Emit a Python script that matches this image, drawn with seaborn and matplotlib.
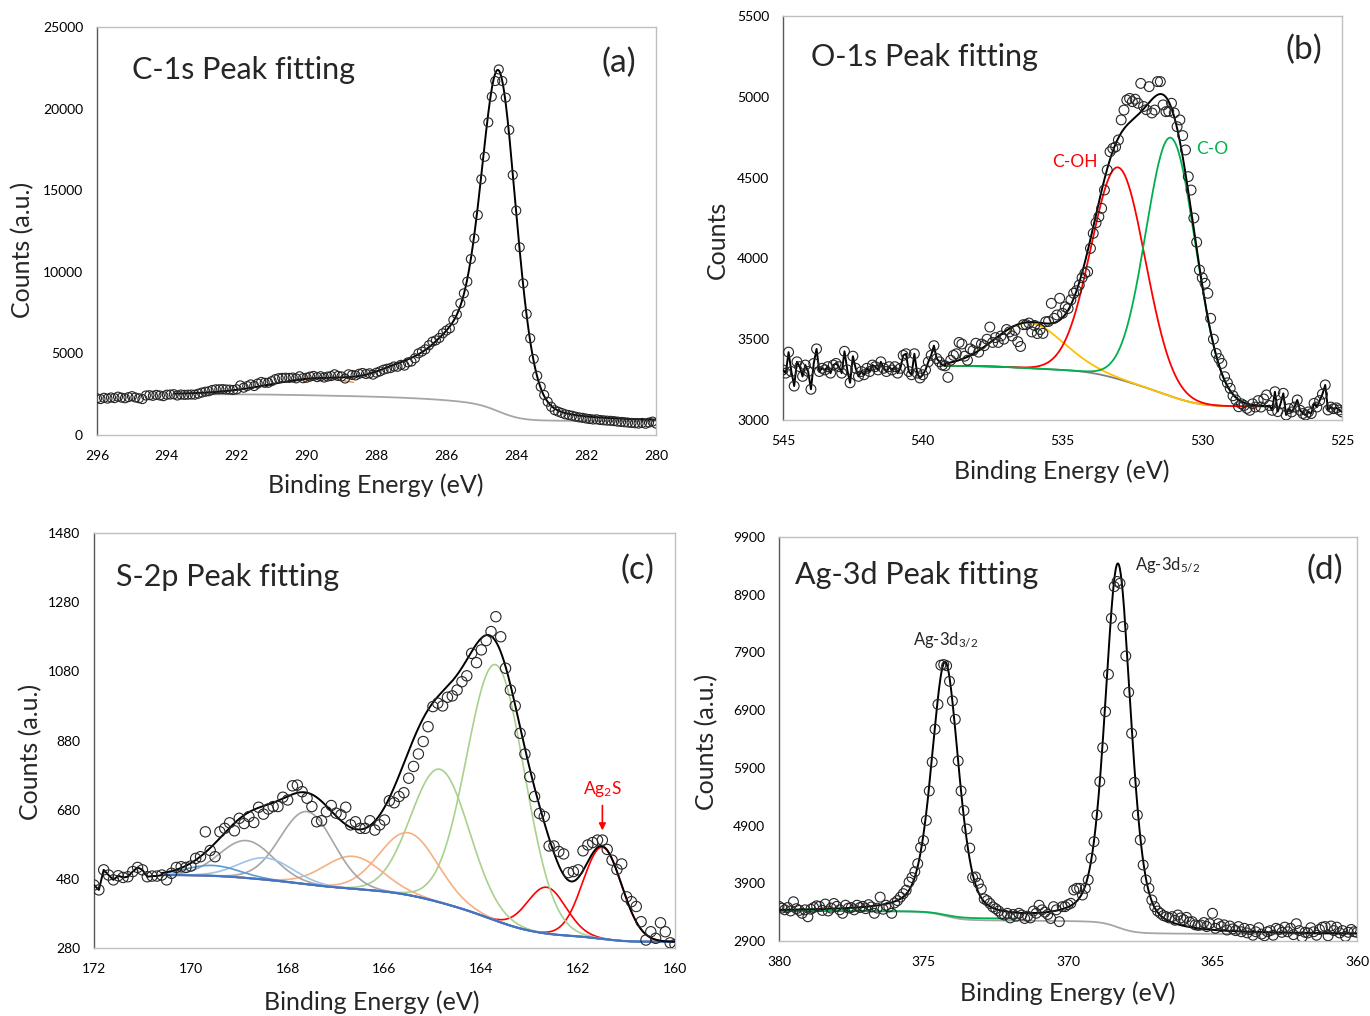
import numpy as np
import matplotlib
matplotlib.use("Agg")
import matplotlib.pyplot as plt
import seaborn as sns

STEP = 0.1

# ---------------- (a) C-1s ----------------
c1s_be = (296.0, 280.0)
c1s_counts = [
    2250, 2200, 2280, 2230, 2300, 2260, 2350, 2290, 2250, 2320,
    2380, 2300, 2250, 2200, 2420, 2440, 2400, 2460, 2420, 2380,
    2470, 2480, 2500, 2420, 2480, 2460, 2470, 2480, 2470, 2530,
    2600, 2650, 2680, 2760, 2800, 2800, 2810, 2790, 2780, 2760,
    2800, 3040, 2900, 3000, 3100, 3000, 3150, 3250, 3200, 3200,
    3300, 3420, 3480, 3500, 3510, 3500, 3520, 3470, 3600, 3480,
    3510, 3580, 3620, 3550, 3600, 3520, 3580, 3610, 3720, 3620,
    3590, 3460, 3720, 3680, 3650, 3750, 3800, 3740, 3780, 3700,
    3820, 3900, 4000, 4060, 4100, 4200, 4180, 4300, 4250, 4450,
    4500, 4700, 5000, 5110, 5250, 5500, 5720, 5800, 5950, 6230,
    6400, 6540, 7050, 7390, 8070, 8680, 9400, 10780, 12050, 13480,
    15670, 17050, 19160, 20730, 21690, 22400, 21690, 20670, 18690, 15930,
    13750, 11500, 9290, 7410, 5920, 4660, 3630, 2960, 2450, 2040,
    1730, 1520, 1430, 1350, 1270, 1225, 1180, 1120, 1080, 1050,
    1010, 980, 950, 960, 920, 900, 880, 870, 850, 820,
    800, 780, 760, 740, 720, 700, 740, 690, 760, 820,
    700]
c1s_centers = [284.5, 285.7, 287.0, 289.5]
c1s_heights = [20400, 2800, 1600, 1000]
c1s_fwhm = [1.2, 1.5, 2.0, 3.5]
c1s_eta = [0.25, 0.0, 0.0, 0.0]
c1s_bg_low_high = (850, 2500)
c1s_fit_range = (280.0, 293.8)
c1s_bg_range = (280.0, 293.0)

# ---------------- (b) O-1s ----------------
o1s_be = (545.0, 525.0)
o1s_counts = [
    3310, 3290, 3420, 3300, 3210, 3360, 3330, 3270, 3340, 3300,
    3190, 3350, 3440, 3300, 3320, 3310, 3330, 3290, 3340, 3350,
    3330, 3290, 3425, 3310, 3230, 3395, 3320, 3270, 3300, 3280,
    3320, 3300, 3340, 3330, 3310, 3360, 3320, 3300, 3330, 3310,
    3330, 3290, 3320, 3400, 3410, 3300, 3280, 3410, 3290, 3260,
    3280, 3310, 3360, 3400, 3460, 3380, 3360, 3340, 3335, 3264,
    3370, 3400, 3410, 3480, 3470, 3395, 3370, 3440, 3430, 3475,
    3420, 3470, 3460, 3500, 3575, 3480, 3510, 3480, 3520, 3500,
    3560, 3545, 3520, 3555, 3485, 3455, 3590, 3590, 3600, 3545,
    3585, 3535, 3560, 3536, 3608, 3610, 3722, 3629, 3650, 3753,
    3660, 3700, 3690, 3743, 3784, 3800, 3835, 3880, 3908, 3918,
    4062, 4155, 4220, 4258, 4310, 4423, 4547, 4660, 4681, 4690,
    4733, 4857, 4918, 4980, 4990, 4970, 4985, 4960, 5083, 4940,
    4920, 5063, 4900, 4918, 5094, 5094, 4950, 4908, 4910, 4960,
    4900, 4815, 4857, 4760, 4671, 4506, 4423, 4250, 4100, 3928,
    3880, 3846, 3784, 3629, 3500, 3412, 3380, 3350, 3268, 3230,
    3196, 3150, 3124, 3082, 3100, 3090, 3072, 3060, 3100, 3080,
    3120, 3080, 3130, 3155, 3090, 3060, 3175, 3052, 3100, 3165,
    3031, 3070, 3050, 3080, 3124, 3060, 3040, 3031, 3050, 3040,
    3103, 3080, 3120, 3160, 3217, 3062, 3080, 3070, 3075, 3062,
    3050]
o1s_names = ["shoulder", "C-OH", "C-O"]
o1s_centers = [536.2, 533.0, 531.12]
o1s_heights = [280, 1310, 1600]
o1s_fwhm = [2.9, 2.26, 2.1]
o1s_colors = ["#FFC000", "#FF0000", "#00B050"]
o1s_bg_low_high = (3085, 3335)
o1s_fit_range = (527.6, 539.2)

# ---------------- (c) S-2p ----------------
s2p_be = (172.0, 160.0)
s2p_counts = [
    462, 448, 506, 491, 477, 489, 484, 486, 501, 513,
    506, 486, 488, 488, 491, 477, 496, 513, 515, 513,
    517, 539, 544, 616, 562, 544, 616, 626, 642, 619,
    655, 640, 660, 643, 687, 667, 682, 689, 689, 716,
    708, 749, 751, 732, 713, 689, 645, 648, 674, 692,
    670, 665, 687, 636, 645, 626, 626, 648, 621, 636,
    650, 706, 700, 718, 729, 771, 805, 841, 877, 920,
    978, 988, 980, 1005, 1009, 1026, 1050, 1067, 1132, 1105,
    1142, 1169, 1195, 1238, 1180, 1089, 1026, 980, 901, 841,
    775, 718, 669, 660, 575, 575, 559, 552, 498, 501,
    506, 561, 578, 585, 592, 592, 565, 534, 507, 523,
    428, 414, 400, 356, 303, 327, 308, 353, 327, 295,
    290]
s2p_centers = [161.5, 162.65, 163.7, 164.85, 165.5, 166.65, 167.6, 168.85, 168.45, 169.55]
s2p_heights = [265, 134, 740, 385, 180, 94, 210, 108, 63, 30]
s2p_fwhm = [0.94, 0.94, 1.41, 1.41, 1.41, 1.41, 1.3, 1.3, 1.3, 1.3]
s2p_colors = ["#FF0000", "#FF0000", "#A9D18E", "#A9D18E", "#F4B183", "#F4B183",
              "#A5A5A5", "#A5A5A5", "#9DC3E6", "#5B9BD5"]
s2p_bg_low_high = (298, 491)
s2p_fit_range = (160.0, 170.6)

# ---------------- (d) Ag-3d ----------------
ag3d_be = (380.0, 360.0)
ag3d_counts = [
    3500, 3470, 3440, 3480, 3420, 3580, 3460, 3430, 3380, 3440,
    3320, 3450, 3480, 3510, 3500, 3430, 3540, 3420, 3470, 3550,
    3500, 3440, 3380, 3520, 3470, 3480, 3440, 3520, 3480, 3500,
    3460, 3530, 3490, 3380, 3470, 3660, 3450, 3520, 3490, 3380,
    3560, 3600, 3660, 3720, 3780, 3920, 4000, 4100, 4240, 4520,
    4640, 4990, 5500, 6000, 6570, 7000, 7680, 7690, 7670, 7400,
    7060, 6740, 6020, 5500, 5160, 4840, 4510, 4000, 4010, 3900,
    3800, 3630, 3600, 3550, 3490, 3460, 3420, 3370, 3350, 3380,
    3300, 3360, 3330, 3380, 3350, 3290, 3330, 3300, 3420, 3380,
    3520, 3440, 3400, 3360, 3290, 3495, 3440, 3235, 3495, 3495,
    3530, 3553, 3784, 3813, 3813, 3697, 3813, 3960, 4332, 4621,
    5083, 5661, 6250, 6874, 7521, 8491, 9040, 9130, 9098, 8347,
    7838, 7209, 6498, 5649, 5083, 4650, 4217, 3957, 3813, 3610,
    3495, 3420, 3379, 3340, 3322, 3300, 3322, 3260, 3351, 3300,
    3270, 3310, 3230, 3235, 3180, 3170, 3177, 3220, 3150, 3200,
    3380, 3120, 3200, 3150, 3180, 3090, 3160, 3110, 3080, 3150,
    3060, 3120, 3040, 3100, 3000, 3060, 3130, 3020, 2990, 3060,
    3080, 3000, 3120, 3100, 3050, 3140, 3060, 3120, 3010, 3200,
    3080, 2970, 3050, 3040, 3130, 3060, 3000, 3100, 3140, 3150,
    2990, 3160, 3080, 3140, 3040, 3080, 2980, 3050, 3100, 3060,
    3050]
ag3d_centers = [374.25, 368.27]
ag3d_heights = [4380, 6290]
ag3d_fwhm = [1.1, 1.05]
ag3d_eta = [0.4, 0.4]
ag3d_bg_low_high = (3020, 3420)
ag3d_green_low_high = (3290, 3420)
ag3d_green_range = (371.8, 380.0)


# ---------------- helpers ----------------
def be_grid(be_range, n):
    return np.round(be_range[0] - STEP * np.arange(n), 2)


def pseudo_voigt(x, c, h, fwhm, eta=0.0):
    u = (x - c) / fwhm
    g = np.exp(-4 * np.log(2) * u ** 2)
    lo = 1.0 / (1 + 4 * u ** 2)
    return h * ((1 - eta) * g + eta * lo)


def shirley(x_asc, signal, low, high):
    cum = np.concatenate([[0.0], np.cumsum(0.5 * (signal[1:] + signal[:-1]) * np.diff(x_asc))])
    return low + (high - low) * cum / cum[-1]


def line(ax, x, y, color, lw=1.3, z=2):
    sns.lineplot(x=x, y=y, ax=ax, color=color, linewidth=lw, estimator=None,
                 sort=False, zorder=z, legend=False)


def points(ax, x, y, s=46):
    sns.scatterplot(x=x, y=y, ax=ax, s=s, marker="o", facecolor="none",
                    edgecolor="#262626", linewidth=0.8, zorder=6, legend=False)


def style_axes(ax, xlim, xticks, ylim, yticks, xlabel, ylabel, ylabel_xy, xlabel_xy):
    ax.set_xlim(*xlim)
    ax.set_ylim(*ylim)
    ax.set_xticks(xticks)
    ax.set_yticks(yticks)
    ax.set_xticklabels([f"{int(v)}" for v in xticks])
    ax.set_yticklabels([f"{int(v)}" for v in yticks])
    ax.tick_params(axis="both", length=0, labelsize=10, colors="black")
    ax.tick_params(axis="x", pad=11)
    ax.tick_params(axis="y", pad=10)
    for side, sp in ax.spines.items():
        sp.set_visible(True)
        sp.set_color("#595959" if side == "left" else "#BFBFBF")
        sp.set_linewidth(1.0)
    ax.set_xlabel(xlabel, fontsize=18)
    ax.set_ylabel(ylabel, fontsize=18)
    ax.yaxis.set_label_coords(*ylabel_xy)
    ax.xaxis.set_label_coords(*xlabel_xy)
    ax.grid(False)


sns.set_theme(style="white")
plt.rcParams["font.family"] = ["Lato", "DejaVu Sans"]
plt.rcParams["mathtext.default"] = "regular"

fig = plt.figure(figsize=(13.7, 10.16), dpi=100)
fig.patch.set_facecolor("white")

W, H = 1370.0, 1016.0
TITLE_FS = 22
TAG_FS = 24


def add_axes(l, r, t, b):
    return fig.add_axes([l / W, 1 - b / H, (r - l) / W, (b - t) / H])


# ---------- (a) ----------
ax = add_axes(97, 656, 27, 435)
xa = be_grid(c1s_be, len(c1s_counts))
ya = np.array(c1s_counts, float)
xf = np.linspace(c1s_fit_range[0], c1s_fit_range[1], 900)
comps = [pseudo_voigt(xf, c, h, w, e) for c, h, w, e in zip(c1s_centers, c1s_heights, c1s_fwhm, c1s_eta)]
total = np.sum(comps, axis=0)
bg = shirley(xf, total, *c1s_bg_low_high)
mbg = xf <= c1s_bg_range[1]
line(ax, xf[mbg], bg[mbg], "#A6A6A6", lw=1.3, z=2)
morange = comps[3] > 0.85 * c1s_heights[3]
line(ax, xf[morange], (bg + comps[3])[morange], "#ED7D31", lw=0.9, z=3)
line(ax, xf, bg + total, "black", lw=1.4, z=4)
points(ax, xa, ya, s=42)
style_axes(ax, (296, 280), np.arange(296, 279, -2), (0, 25000), np.arange(0, 25001, 5000),
           "Binding Energy (eV)", "Counts (a.u.)", (-0.113, 0.453), (0.499, -0.093))
ax.text(0.063, 0.895, "C-1s Peak fitting", transform=ax.transAxes, fontsize=TITLE_FS, va="center", ha="left")
ax.text(0.934, 0.912, "(a)", transform=ax.transAxes, fontsize=TAG_FS, va="center", ha="center")

# ---------- (b) ----------
ax = add_axes(783, 1342, 16, 420)
xb = be_grid(o1s_be, len(o1s_counts))
yb = np.array(o1s_counts, float)
xf = np.linspace(o1s_fit_range[0], o1s_fit_range[1], 900)
comps = [pseudo_voigt(xf, c, h, w) for c, h, w in zip(o1s_centers, o1s_heights, o1s_fwhm)]
total = np.sum(comps, axis=0)
bg = shirley(xf, total, *o1s_bg_low_high)
line(ax, xf, bg, "#7F7F7F", lw=1.3, z=2)
for comp, col in zip(comps, o1s_colors):
    line(ax, xf, bg + comp, col, lw=1.3, z=3)
left = xb >= o1s_fit_range[1] - 1e-9
right = xb <= o1s_fit_range[0] + 1e-9
env_x = np.concatenate([xb[left], xf[::-1], xb[right]])
env_y = np.concatenate([yb[left], (bg + total)[::-1], yb[right]])
line(ax, env_x, env_y, "black", lw=1.4, z=4)
points(ax, xb, yb, s=50)
style_axes(ax, (545, 525), np.arange(545, 524, -5), (3000, 5500), np.arange(3000, 5501, 500),
           "Binding Energy (eV)", "Counts", (-0.097, 0.446), (0.499, -0.0965))
ax.text(0.050, 0.899, "O-1s Peak fitting", transform=ax.transAxes, fontsize=TITLE_FS, va="center", ha="left")
ax.text(0.932, 0.916, "(b)", transform=ax.transAxes, fontsize=TAG_FS, va="center", ha="center")
ax.text(534.55, 4597, o1s_names[1], color=o1s_colors[1], fontsize=12.5, ha="center", va="center")
ax.text(529.65, 4677, o1s_names[2], color=o1s_colors[2], fontsize=12.5, ha="center", va="center")

# ---------- (c) ----------
ax = add_axes(94, 675, 533, 948)
xc = be_grid(s2p_be, len(s2p_counts))
yc = np.array(s2p_counts, float)
xf = np.linspace(s2p_fit_range[0], s2p_fit_range[1], 900)
comps = [pseudo_voigt(xf, c, h, w) for c, h, w in zip(s2p_centers, s2p_heights, s2p_fwhm)]
total = np.sum(comps, axis=0)
bg = shirley(xf, total, *s2p_bg_low_high)
for comp, col in zip(comps, s2p_colors):
    line(ax, xf, bg + comp, col, lw=1.2, z=2)
line(ax, xf, bg, "#4472C4", lw=1.6, z=3)
left = xc >= s2p_fit_range[1] - 1e-9
env_x = np.concatenate([xc[left], xf[::-1]])
env_y = np.concatenate([yc[left], (bg + total)[::-1]])
line(ax, env_x, env_y, "black", lw=1.4, z=4)
points(ax, xc, yc, s=55)
style_axes(ax, (172, 160), np.arange(172, 159, -2), (280, 1480), np.arange(280, 1481, 200),
           "Binding Energy (eV)", "Counts (a.u.)", (-0.0895, 0.472), (0.478, -0.101))
ax.text(0.038, 0.894, "S-2p Peak fitting", transform=ax.transAxes, fontsize=TITLE_FS, va="center", ha="left")
ax.text(0.935, 0.911, "(c)", transform=ax.transAxes, fontsize=TAG_FS, va="center", ha="center")
ax.annotate("", xy=(s2p_centers[0], 612), xytext=(s2p_centers[0], 700),
            arrowprops=dict(arrowstyle="-|>", color="#FF0000", lw=1.2, mutation_scale=10))
ax.text(s2p_centers[0], 710, "Ag$_2$S", color="#FF0000", fontsize=12.5, ha="center", va="bottom")

# ---------- (d) ----------
ax = add_axes(779, 1357, 537, 941)
xd = be_grid(ag3d_be, len(ag3d_counts))
yd = np.array(ag3d_counts, float)
xf = np.linspace(ag3d_be[1], ag3d_be[0], 1200)
comps = [pseudo_voigt(xf, c, h, w, e) for c, h, w, e in zip(ag3d_centers, ag3d_heights, ag3d_fwhm, ag3d_eta)]
total = np.sum(comps, axis=0)
bg = shirley(xf, total, *ag3d_bg_low_high)
xg = np.linspace(ag3d_green_range[0], ag3d_green_range[1], 600)
g_sig = pseudo_voigt(xg, ag3d_centers[0], ag3d_heights[0], ag3d_fwhm[0], ag3d_eta[0])
g_bg = shirley(xg, g_sig, *ag3d_green_low_high)
line(ax, xf, bg, "#A6A6A6", lw=1.3, z=2)
line(ax, xg, g_bg, "#00B050", lw=1.3, z=3)
line(ax, xf, bg + total, "black", lw=1.4, z=4)
points(ax, xd, yd, s=50)
style_axes(ax, (380, 360), np.arange(380, 359, -5), (2900, 9900), np.arange(2900, 9901, 1000),
           "Binding Energy (eV)", "Counts (a.u.)", (-0.1055, 0.493), (0.5, -0.099))
ax.text(0.028, 0.906, "Ag-3d Peak fitting", transform=ax.transAxes, fontsize=TITLE_FS, va="center", ha="left")
ax.text(0.945, 0.918, "(d)", transform=ax.transAxes, fontsize=TAG_FS, va="center", ha="center")
ax.text(ag3d_centers[0], 7950, "Ag-3d$_{3/2}$", fontsize=12, ha="center", va="bottom")
ax.text(ag3d_centers[1] - 0.6, 9250, "Ag-3d$_{5/2}$", fontsize=12, ha="left", va="bottom")

fig.savefig("out.png", dpi=100, facecolor="white")
